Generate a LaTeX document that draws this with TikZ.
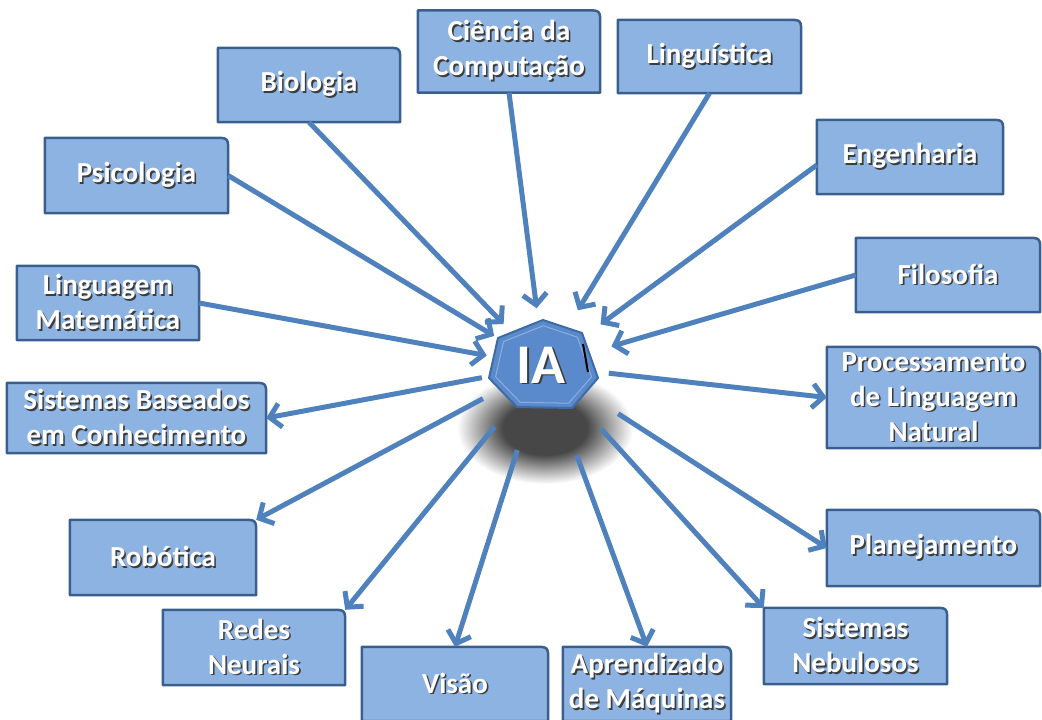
\documentclass[tikz,border=0pt]{standalone}
\usepackage{fontspec}
\setmainfont{Carlito}
\usetikzlibrary{arrows.meta,backgrounds,calc}

\definecolor{boxfill}{HTML}{8DB3E2}
\definecolor{boxedge}{HTML}{3A5F8E}
\definecolor{arrowblue}{HTML}{4F81BD}
\definecolor{hepfill}{HTML}{5A8ACB}
\definecolor{hepedge}{HTML}{3D6BA6}
\definecolor{hepbevel}{HTML}{8CB0DE}
\definecolor{txtshadow}{HTML}{3C3C3C}

% white lettering with a small dark drop shadow
\newcommand\shadowtext[1]{\makebox[0pt][l]{\hspace{1.6pt}\raisebox{-1.6pt}{\textcolor{txtshadow}{#1}}}\textcolor{white}{#1}}

% soft shadow under the central badge
\pgfdeclareradialshading{softshadow}{\pgfpoint{0bp}{0bp}}{color(0bp)=(black!72); color(12bp)=(black!72); color(25bp)=(white); color(50bp)=(white)}

\tikzset{
  topic/.style={rectangle, inner sep=0pt, align=center,
    font=\fontsize{29}{35}\selectfont\bfseries},
  frame/.style={fill=boxfill, draw=boxedge, line width=2.5pt, line join=round},
  link/.style={draw=arrowblue, line width=5pt,
    -{Straight Barb[length=11pt,width=24pt]}},
}

% name, centre x, centre y, width, height, label
\newcommand\topicbox[6]{%
  \node[topic, minimum width=#4pt, minimum height=#5pt] (#1) at (#2,#3) {#6};
  \begin{pgfonlayer}{background}
    \draw[frame] (#1.south west) -- (#1.north west)
      -- ([xshift=-14pt]#1.north east) .. controls (#1.north east) .. ([yshift=-14pt]#1.north east)
      -- (#1.south east) -- cycle;
  \end{pgfonlayer}}

\begin{document}
\begin{tikzpicture}[x=1pt, y=-1pt]
  \useasboundingbox (0,0) rectangle (1042,720);

  % topic boxes
  \topicbox{psi}{136.5}{175.5}{183}{75}{\shadowtext{Psicologia}}
  \topicbox{bio}{309}{85}{182}{74}{\shadowtext{Biologia}}
  \topicbox{cc}{509}{51.5}{182}{82}{\shadowtext{Ciência da}\\\shadowtext{Computação}}
  \topicbox{ling}{709.5}{56.5}{183}{73}{\shadowtext{Linguística}}
  \topicbox{eng}{910}{157}{186}{74}{\shadowtext{Engenharia}}
  \topicbox{fil}{948}{275}{184}{74}{\shadowtext{Filosofia}}
  \topicbox{lm}{108}{303}{182}{74}{\shadowtext{Linguagem}\\\shadowtext{Matemática}}
  \topicbox{sbc}{136.5}{418}{259}{70}{\shadowtext{Sistemas Baseados}\\\shadowtext{em Conhecimento}}
  \topicbox{pln}{933.5}{397.5}{213}{101}{\shadowtext{Processamento}\\\shadowtext{de Linguagem}\\\shadowtext{Natural}}
  \topicbox{rob}{163}{557.5}{186}{75}{\shadowtext{Robótica}}
  \topicbox{plan}{933.5}{548}{213}{76}{\shadowtext{Planejamento}}
  \topicbox{rn}{254}{647.5}{182}{75}{\shadowtext{Redes}\\\shadowtext{Neurais}}
  \topicbox{vis}{455}{684}{186}{74}{\shadowtext{Visão}}
  \topicbox{apr}{647}{684}{168}{74}{\shadowtext{Aprendizado}\\\shadowtext{de Máquinas}}
  \topicbox{neb}{855.5}{646}{183}{76}{\shadowtext{Sistemas}\\\shadowtext{Nebulosos}}

  % shadow cast by the badge
  \shade[shading=softshadow] (545,428) ellipse [x radius=88pt, y radius=56pt];

  % central badge
  \coordinate (hc) at (544,368);
  \coordinate (h1) at (543,320);
  \coordinate (h2) at (582,333);
  \coordinate (h3) at (598,378);
  \coordinate (h4) at (572,408);
  \coordinate (h5) at (517,407);
  \coordinate (h6) at (489,378);
  \coordinate (h7) at (498,338);
  \node[circle, minimum size=116pt, inner sep=0pt] (ia) at (544,366) {};

  % connectors into the badge
  \draw[link] (psi.east) -- (ia);
  \draw[link] (bio.south) -- (ia);
  \draw[link] (cc.south) -- (ia);
  \draw[link, shorten >=7pt] (ling.south) -- (ia);
  \draw[link, shorten >=12pt] ([yshift=-8pt]eng.west) -- (ia);
  \draw[link, shorten >=12pt] (fil.west) -- (ia);
  \draw[link] (lm.east) -- (ia);

  % connectors out of the badge
  \draw[link, shorten <=5pt] (ia) -- (sbc.east);
  \draw[link, shorten <=7pt] (ia) -- (pln.west);
  \draw[link, shorten <=11pt] (ia) -- (rob.north east);
  \draw[link, shorten <=20pt] (ia) -- (rn.north east);
  \draw[link, shorten <=30pt] (ia) -- (vis.north);
  \draw[link, shorten <=37pt] (ia) -- (apr.north);
  \draw[link, shorten <=27pt] (ia) -- (neb.north west);
  \draw[link, shorten <=30pt] (ia) -- (plan.west);

  % heptagon with a bevel line
  \filldraw[fill=hepfill, draw=hepedge, line width=2pt, line join=round]
    (h1) -- (h2) -- (h3) -- (h4) -- (h5) -- (h6) -- (h7) -- cycle;
  \draw[hepbevel, line width=1pt, line join=round]
    ($(hc)!0.88!(h1)$) -- ($(hc)!0.88!(h2)$) -- ($(hc)!0.88!(h3)$) -- ($(hc)!0.88!(h4)$)
    -- ($(hc)!0.88!(h5)$) -- ($(hc)!0.88!(h6)$) -- ($(hc)!0.88!(h7)$) -- cycle;
  \draw[black, line width=2pt] (583,344) -- (588,372);
  \node[font=\fontsize{56}{56}\selectfont\bfseries] at (541,366) {\shadowtext{IA}};
\end{tikzpicture}
\end{document}
